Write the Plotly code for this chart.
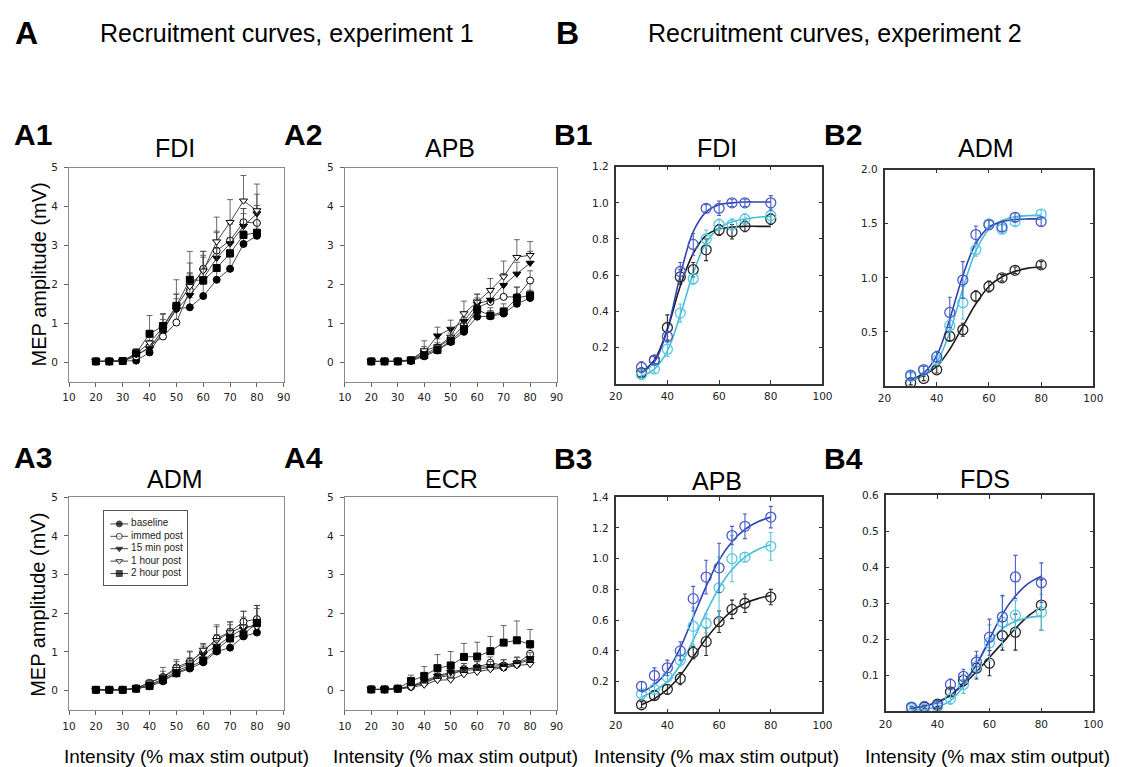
import plotly.graph_objects as go

W, H = 1125, 767

# ---------------- Experiment 1 (A panels) ----------------
intensity_a = [20, 25, 30, 35, 40, 45, 50, 55, 60, 65, 70, 75, 80]
conditions = ["baseline", "immed post", "15 min post", "1 hour post", "2 hour post"]

fdi_a_mean = {
    "baseline":    [0.02, 0.02, 0.03, 0.04, 0.25, 0.80, 1.38, 1.41, 1.70, 2.12, 2.40, 3.04, 3.25],
    "immed post":  [0.02, 0.02, 0.03, 0.15, 0.40, 0.66, 1.02, 1.85, 2.40, 2.87, 3.13, 3.60, 3.58],
    "15 min post": [0.02, 0.02, 0.03, 0.20, 0.35, 0.85, 1.35, 1.72, 2.15, 2.68, 3.05, 3.50, 3.82],
    "1 hour post": [0.02, 0.02, 0.03, 0.22, 0.50, 0.90, 1.42, 1.95, 2.35, 3.10, 3.60, 4.15, 3.90],
    "2 hour post": [0.02, 0.02, 0.03, 0.23, 0.73, 0.93, 1.45, 2.12, 2.10, 2.42, 2.80, 3.27, 3.33],
}
fdi_a_err = {
    "baseline":    [0, 0, 0, 0.02, 0.08, 0.15, 0.25, 0.25, 0.30, 0.30, 0.30, 0.35, 0.35],
    "immed post":  [0, 0, 0, 0.05, 0.15, 0.20, 0.35, 0.45, 0.45, 0.50, 0.45, 0.35, 0.45],
    "15 min post": [0, 0, 0, 0.06, 0.20, 0.25, 0.40, 0.55, 0.60, 0.65, 0.50, 0.45, 0.50],
    "1 hour post": [0, 0, 0, 0.08, 0.30, 0.35, 0.70, 0.60, 0.50, 0.63, 0.58, 0.65, 0.68],
    "2 hour post": [0, 0, 0, 0.12, 0.47, 0.30, 0.30, 0.73, 0.60, 0.50, 0.40, 0.55, 0.50],
}

apb_a_mean = {
    "baseline":    [0.02, 0.02, 0.02, 0.03, 0.15, 0.30, 0.52, 0.78, 1.17, 1.18, 1.25, 1.50, 1.65],
    "immed post":  [0.02, 0.02, 0.02, 0.05, 0.20, 0.38, 0.60, 0.95, 1.40, 1.55, 1.68, 1.68, 2.10],
    "15 min post": [0.02, 0.02, 0.02, 0.06, 0.25, 0.68, 0.85, 1.05, 1.50, 1.60, 1.98, 2.27, 2.55],
    "1 hour post": [0.02, 0.02, 0.02, 0.07, 0.30, 0.40, 0.65, 1.25, 1.55, 1.85, 2.20, 2.70, 2.75],
    "2 hour post": [0.02, 0.02, 0.02, 0.05, 0.18, 0.32, 0.55, 0.85, 1.35, 1.20, 1.30, 1.65, 1.72],
}
apb_a_err = {
    "baseline":    [0, 0, 0, 0.02, 0.05, 0.08, 0.10, 0.15, 0.20, 0.15, 0.15, 0.20, 0.20],
    "immed post":  [0, 0, 0, 0.02, 0.08, 0.12, 0.15, 0.20, 0.25, 0.25, 0.30, 0.25, 0.25],
    "15 min post": [0, 0, 0, 0.03, 0.15, 0.22, 0.23, 0.25, 0.25, 0.30, 0.30, 0.30, 0.30],
    "1 hour post": [0, 0, 0, 0.03, 0.25, 0.20, 0.25, 0.32, 0.20, 0.30, 0.40, 0.45, 0.35],
    "2 hour post": [0, 0, 0, 0.02, 0.05, 0.10, 0.12, 0.18, 0.25, 0.20, 0.20, 0.28, 0.30],
}

adm_a_mean = {
    "baseline":    [0.02, 0.02, 0.02, 0.05, 0.11, 0.24, 0.44, 0.57, 0.73, 1.01, 1.11, 1.40, 1.50],
    "immed post":  [0.02, 0.02, 0.02, 0.06, 0.20, 0.35, 0.60, 0.75, 1.00, 1.35, 1.52, 1.78, 1.85],
    "15 min post": [0.02, 0.02, 0.02, 0.06, 0.15, 0.30, 0.50, 0.65, 0.95, 1.15, 1.40, 1.60, 1.72],
    "1 hour post": [0.02, 0.02, 0.02, 0.06, 0.20, 0.35, 0.55, 0.72, 1.05, 1.30, 1.50, 1.65, 1.65],
    "2 hour post": [0.02, 0.02, 0.02, 0.05, 0.12, 0.28, 0.45, 0.62, 0.78, 1.05, 1.35, 1.45, 1.75],
}
adm_a_err = {
    "baseline":    [0, 0, 0, 0.01, 0.03, 0.05, 0.08, 0.10, 0.12, 0.12, 0.15, 0.15, 0.10],
    "immed post":  [0, 0, 0, 0.02, 0.05, 0.15, 0.20, 0.25, 0.20, 0.30, 0.25, 0.27, 0.35],
    "15 min post": [0, 0, 0, 0.02, 0.05, 0.12, 0.15, 0.20, 0.20, 0.30, 0.30, 0.30, 0.40],
    "1 hour post": [0, 0, 0, 0.02, 0.08, 0.25, 0.20, 0.30, 0.17, 0.40, 0.28, 0.40, 0.55],
    "2 hour post": [0, 0, 0, 0.01, 0.04, 0.10, 0.15, 0.20, 0.20, 0.25, 0.25, 0.25, 0.45],
}

ecr_a_mean = {
    "baseline":    [0.03, 0.03, 0.05, 0.10, 0.22, 0.35, 0.45, 0.52, 0.55, 0.60, 0.60, 0.68, 0.80],
    "immed post":  [0.03, 0.03, 0.05, 0.10, 0.20, 0.33, 0.40, 0.55, 0.60, 0.72, 0.65, 0.70, 0.95],
    "15 min post": [0.03, 0.03, 0.05, 0.12, 0.25, 0.38, 0.48, 0.55, 0.60, 0.63, 0.65, 0.72, 0.83],
    "1 hour post": [0.03, 0.03, 0.04, 0.08, 0.15, 0.27, 0.28, 0.42, 0.48, 0.55, 0.58, 0.65, 0.68],
    "2 hour post": [0.03, 0.03, 0.05, 0.25, 0.38, 0.58, 0.65, 0.87, 0.88, 1.02, 1.24, 1.30, 1.20],
}
ecr_a_err = {
    "baseline":    [0, 0, 0, 0.03, 0.05, 0.08, 0.10, 0.12, 0.12, 0.12, 0.10, 0.10, 0.12],
    "immed post":  [0, 0, 0, 0.03, 0.06, 0.10, 0.12, 0.15, 0.15, 0.15, 0.15, 0.15, 0.15],
    "15 min post": [0, 0, 0, 0.03, 0.06, 0.10, 0.12, 0.15, 0.15, 0.12, 0.15, 0.15, 0.15],
    "1 hour post": [0, 0, 0, 0.02, 0.05, 0.08, 0.10, 0.12, 0.10, 0.10, 0.12, 0.10, 0.10],
    "2 hour post": [0, 0, 0, 0.15, 0.24, 0.35, 0.36, 0.35, 0.37, 0.38, 0.44, 0.50, 0.38],
}

# ---------------- Experiment 2 (B panels) ----------------
intensity_b = [30, 35, 40, 45, 50, 55, 60, 65, 70, 80]
intensity_fit = [30, 35, 40, 45, 50, 55, 60, 65, 70, 75, 80]
sessions_b = ["black", "cyan", "blue"]

fdi_b_mean = {
    "black": [0.06, 0.13, 0.31, 0.59, 0.63, 0.74, 0.85, 0.84, 0.87, 0.91],
    "cyan":  [0.05, 0.08, 0.19, 0.39, 0.58, 0.80, 0.88, 0.88, 0.91, 0.93],
    "blue":  [0.09, 0.13, 0.26, 0.62, 0.77, 0.97, 0.97, 1.00, 1.00, 1.00],
}
fdi_b_err = {
    "black": [0.02, 0.02, 0.07, 0.04, 0.04, 0.06, 0.03, 0.04, 0.03, 0.03],
    "cyan":  [0.02, 0.02, 0.04, 0.05, 0.03, 0.05, 0.03, 0.03, 0.03, 0.04],
    "blue":  [0.03, 0.02, 0.03, 0.05, 0.06, 0.02, 0.04, 0.02, 0.02, 0.04],
}
fdi_b_fit = {
    "black": [0.06, 0.13, 0.30, 0.54, 0.72, 0.82, 0.855, 0.865, 0.87, 0.87, 0.87],
    "cyan":  [0.04, 0.08, 0.18, 0.38, 0.61, 0.78, 0.86, 0.895, 0.91, 0.92, 0.925],
    "blue":  [0.06, 0.12, 0.30, 0.60, 0.84, 0.95, 0.99, 1.00, 1.005, 1.005, 1.005],
}

adm_b_mean = {
    "black": [0.03, 0.07, 0.15, 0.46, 0.52, 0.83, 0.92, 1.00, 1.07, 1.12],
    "cyan":  [0.09, 0.15, 0.24, 0.56, 0.77, 1.26, 1.50, 1.45, 1.52, 1.59],
    "blue":  [0.10, 0.15, 0.27, 0.68, 0.98, 1.40, 1.49, 1.47, 1.56, 1.52],
}
adm_b_err = {
    "black": [0.02, 0.02, 0.03, 0.04, 0.06, 0.05, 0.05, 0.03, 0.03, 0.03],
    "cyan":  [0.03, 0.03, 0.04, 0.06, 0.15, 0.06, 0.04, 0.04, 0.04, 0.04],
    "blue":  [0.03, 0.03, 0.05, 0.14, 0.17, 0.08, 0.04, 0.04, 0.04, 0.04],
}
adm_b_fit = {
    "black": [0.05, 0.10, 0.18, 0.34, 0.55, 0.76, 0.92, 1.01, 1.06, 1.09, 1.10],
    "cyan":  [0.05, 0.10, 0.22, 0.50, 0.90, 1.25, 1.45, 1.53, 1.565, 1.575, 1.58],
    "blue":  [0.06, 0.12, 0.28, 0.62, 1.02, 1.32, 1.47, 1.52, 1.54, 1.545, 1.545],
}

apb_b_mean = {
    "black": [0.05, 0.11, 0.15, 0.22, 0.39, 0.46, 0.59, 0.67, 0.71, 0.75],
    "cyan":  [0.12, 0.15, 0.23, 0.34, 0.56, 0.58, 0.81, 1.00, 1.01, 1.08],
    "blue":  [0.17, 0.24, 0.29, 0.40, 0.74, 0.88, 0.94, 1.15, 1.21, 1.27],
}
apb_b_err = {
    "black": [0.02, 0.03, 0.03, 0.04, 0.04, 0.09, 0.07, 0.06, 0.06, 0.05],
    "cyan":  [0.02, 0.03, 0.03, 0.04, 0.12, 0.06, 0.20, 0.15, 0.03, 0.09],
    "blue":  [0.03, 0.05, 0.05, 0.06, 0.08, 0.11, 0.16, 0.06, 0.08, 0.07],
}
apb_b_fit = {
    "black": [0.05, 0.09, 0.15, 0.24, 0.36, 0.48, 0.58, 0.66, 0.71, 0.74, 0.76],
    "cyan":  [0.10, 0.14, 0.20, 0.31, 0.47, 0.65, 0.81, 0.93, 1.01, 1.06, 1.09],
    "blue":  [0.13, 0.18, 0.27, 0.42, 0.62, 0.82, 0.99, 1.11, 1.19, 1.24, 1.27],
}

fds_b_mean = {
    "black": [0.010, 0.012, 0.020, 0.054, 0.086, 0.120, 0.134, 0.210, 0.220, 0.295],
    "cyan":  [0.008, 0.008, 0.012, 0.035, 0.075, 0.125, 0.190, 0.248, 0.267, 0.275],
    "blue":  [0.012, 0.014, 0.017, 0.075, 0.097, 0.137, 0.206, 0.262, 0.373, 0.357],
}
fds_b_err = {
    "black": [0.003, 0.004, 0.006, 0.010, 0.015, 0.030, 0.035, 0.040, 0.050, 0.070],
    "cyan":  [0.003, 0.004, 0.006, 0.015, 0.025, 0.030, 0.050, 0.070, 0.040, 0.050],
    "blue":  [0.003, 0.004, 0.006, 0.015, 0.020, 0.030, 0.050, 0.060, 0.060, 0.055],
}
fds_b_fit = {
    "black": [0.008, 0.015, 0.026, 0.045, 0.075, 0.110, 0.150, 0.190, 0.230, 0.265, 0.290],
    "cyan":  [0.003, 0.006, 0.013, 0.030, 0.070, 0.130, 0.190, 0.230, 0.250, 0.260, 0.265],
    "blue":  [0.010, 0.015, 0.025, 0.045, 0.080, 0.130, 0.200, 0.270, 0.320, 0.355, 0.375],
}

# ---------------- styles ----------------
cond_style = {
    "baseline":    dict(symbol="circle", color="black"),
    "immed post":  dict(symbol="circle", color="white"),
    "15 min post": dict(symbol="triangle-down", color="black"),
    "1 hour post": dict(symbol="triangle-down", color="white"),
    "2 hour post": dict(symbol="square", color="black"),
}
session_line = {"black": "#1c1c1c", "cyan": "#45bcd8", "blue": "#2f41b3"}
session_marker = {"black": "#2a2a2a", "cyan": "#55c6df", "blue": "#4a5cc8"}

FONT = "Liberation Sans, Arial, sans-serif"
TICKFONT = dict(family="DejaVu Sans, Verdana, sans-serif", size=10.5, color="#222")

# plot boxes in pixels: (left, right, top, bottom)
boxes = {
    1: (63, 281, 163, 378.6),   # A1
    2: (343, 558, 163, 378.6),  # A2
    3: (618, 828, 162, 380.5),  # B1
    4: (891, 1103, 165, 383),   # B2
    5: (63, 281, 495, 709.5),   # A3
    6: (343, 558, 495, 709.5),  # A4
    7: (618, 828, 495, 712),    # B3
    8: (892, 1103, 493, 711),   # B4
}
# key box inside A3, in pixels (left, right, top, bottom)
key_box = (98, 183, 509, 584)

fig = go.Figure()


def axis_names(i):
    return ("x" if i == 1 else f"x{i}"), ("y" if i == 1 else f"y{i}")


def add_a_panel(idx, means, errs):
    xa, ya = axis_names(idx)
    for cond in conditions:
        st = cond_style[cond]
        fig.add_trace(go.Scatter(
            x=intensity_a, y=means[cond], name=cond, mode="lines+markers",
            xaxis=xa, yaxis=ya, showlegend=False,
            line=dict(color="#333", width=0.9),
            marker=dict(symbol=st["symbol"], size=7, color=st["color"],
                        line=dict(color="black", width=1)),
            error_y=dict(type="data", symmetric=False, array=errs[cond],
                         arrayminus=[0] * len(errs[cond]),
                         color="#444", thickness=0.8, width=3),
        ))


def add_b_panel(idx, means, errs, fits):
    xa, ya = axis_names(idx)
    for s in sessions_b:
        fig.add_trace(go.Scatter(
            x=intensity_fit, y=fits[s], mode="lines", xaxis=xa, yaxis=ya,
            showlegend=False, line=dict(color=session_line[s], width=1.6, shape="spline"),
            hoverinfo="skip",
        ))
    for s in sessions_b:
        fig.add_trace(go.Scatter(
            x=intensity_b, y=means[s], mode="markers", xaxis=xa, yaxis=ya,
            showlegend=False,
            marker=dict(symbol="circle-open", size=10, color=session_marker[s],
                        line=dict(width=1.3)),
            error_y=dict(type="data", array=errs[s], color=session_marker[s],
                         thickness=1.1, width=2),
        ))


add_a_panel(1, fdi_a_mean, fdi_a_err)
add_a_panel(2, apb_a_mean, apb_a_err)
add_a_panel(5, adm_a_mean, adm_a_err)
add_a_panel(6, ecr_a_mean, ecr_a_err)
add_b_panel(3, fdi_b_mean, fdi_b_err, fdi_b_fit)
add_b_panel(4, adm_b_mean, adm_b_err, adm_b_fit)
add_b_panel(7, apb_b_mean, apb_b_err, apb_b_fit)
add_b_panel(8, fds_b_mean, fds_b_err, fds_b_fit)

# compact key for the five conditions, drawn on its own small axis (x9/y9);
# x units are pixels across the key box, y units are rows
for row, cond in enumerate(conditions):
    st = cond_style[cond]
    fig.add_trace(go.Scatter(
        x=[7, 16, 25], y=[row, row, row], mode="lines+markers",
        xaxis="x9", yaxis="y9", showlegend=False, hoverinfo="skip",
        line=dict(color="#333", width=0.9),
        marker=dict(symbol=st["symbol"], size=[0, 6, 0], color=st["color"],
                    line=dict(color="black", width=1)),
    ))
fig.add_trace(go.Scatter(
    x=[28] * len(conditions), y=list(range(len(conditions))), text=conditions,
    mode="text", textposition="middle right", xaxis="x9", yaxis="y9",
    showlegend=False, hoverinfo="skip",
    textfont=dict(family=FONT, size=10, color="#222"),
))

# axes
b_yticks = {
    3: ([0.2, 0.4, 0.6, 0.8, 1.0, 1.2], [0, 1.2]),
    4: ([0.5, 1.0, 1.5, 2.0], [0, 2.0]),
    7: ([0.2, 0.4, 0.6, 0.8, 1.0, 1.2, 1.4], [0, 1.4]),
    8: ([0.1, 0.2, 0.3, 0.4, 0.5, 0.6], [0, 0.6]),
}
layout_axes = {}
for idx, (l, r, t, b) in boxes.items():
    xd = [l / W, r / W]
    yd = [1 - b / H, 1 - t / H]
    xkey = "xaxis" if idx == 1 else f"xaxis{idx}"
    ykey = "yaxis" if idx == 1 else f"yaxis{idx}"
    xa, ya = axis_names(idx)
    if idx in (1, 2, 5, 6):
        layout_axes[xkey] = dict(
            domain=xd, anchor=ya, range=[10, 90], tickvals=list(range(10, 91, 10)),
            ticks="outside", ticklen=4, tickcolor="#666", showline=True, mirror=True,
            linecolor="#8a8a8a", linewidth=1, showgrid=False, zeroline=False,
            tickfont=TICKFONT, ticklabelstandoff=2)
        layout_axes[ykey] = dict(
            domain=yd, anchor=xa, range=[-0.5, 5], tickvals=[0, 1, 2, 3, 4, 5],
            ticks="outside", ticklen=4, tickcolor="#666", showline=True, mirror=True,
            linecolor="#8a8a8a", linewidth=1, showgrid=False, zeroline=False,
            tickfont=TICKFONT, ticklabelstandoff=4)
    else:
        tv, rng = b_yticks[idx]
        layout_axes[xkey] = dict(
            domain=xd, anchor=ya, range=[20, 100], tickvals=[20, 40, 60, 80, 100],
            ticks="inside", ticklen=4, tickcolor="#333", showline=True, mirror="ticks",
            linecolor="#333", linewidth=1.5, showgrid=False, zeroline=False,
            tickfont=TICKFONT, ticklabelstandoff=2)
        layout_axes[ykey] = dict(
            domain=yd, anchor=xa, range=rng, tickvals=tv, tickformat=".1f",
            ticks="inside", ticklen=4, tickcolor="#333", showline=True, mirror="ticks",
            linecolor="#333", linewidth=1.5, showgrid=False, zeroline=False,
            tickfont=TICKFONT, ticklabelstandoff=3)

kl, kr, kt, kb = key_box
row_top = kt + 13      # centre of first key row, px
row_step = 12.5        # px between key rows
layout_axes["xaxis9"] = dict(
    domain=[kl / W, kr / W], anchor="y9", range=[0, kr - kl],
    showline=True, mirror=True, linecolor="#555", linewidth=1,
    showticklabels=False, ticks="", showgrid=False, zeroline=False, fixedrange=True)
layout_axes["yaxis9"] = dict(
    domain=[1 - kb / H, 1 - kt / H], anchor="x9",
    range=[(kb - row_top) / row_step, (kt - row_top) / row_step],
    showline=True, mirror=True, linecolor="#555", linewidth=1,
    showticklabels=False, ticks="", showgrid=False, zeroline=False, fixedrange=True)


def ann(text, x, y, size, bold=False, xanchor="center", angle=0):
    return dict(text=f"<b>{text}</b>" if bold else text, x=x / W, y=1 - y / H,
                xref="paper", yref="paper", xanchor=xanchor, yanchor="middle",
                showarrow=False, textangle=angle,
                font=dict(family=FONT, size=size, color="black"))


annotations = [
    ann("A", 6, 27, 32, bold=True, xanchor="left"),
    ann("Recruitment curves, experiment 1", 92, 27, 25, xanchor="left"),
    ann("B", 555, 27, 32, bold=True, xanchor="left"),
    ann("Recruitment curves, experiment 2", 649, 27, 25, xanchor="left"),
    ann("A1", 5, 130, 30, bold=True, xanchor="left"),
    ann("A2", 279, 130, 30, bold=True, xanchor="left"),
    ann("B1", 553, 130, 30, bold=True, xanchor="left"),
    ann("B2", 827, 130, 30, bold=True, xanchor="left"),
    ann("A3", 5, 455, 30, bold=True, xanchor="left"),
    ann("A4", 279, 455, 30, bold=True, xanchor="left"),
    ann("B3", 553, 456, 30, bold=True, xanchor="left"),
    ann("B4", 827, 456, 30, bold=True, xanchor="left"),
    ann("FDI", 171, 143, 25),
    ann("APB", 450, 143, 25),
    ann("FDI", 721, 143, 25),
    ann("ADM", 994, 143, 25),
    ann("ADM", 171, 477, 25),
    ann("ECR", 451, 477, 25),
    ann("APB", 721, 479, 25),
    ann("FDS", 993, 477, 25),
    ann("MEP amplitude (mV)", 32, 271, 20, angle=-90),
    ann("MEP amplitude (mV)", 32, 604, 20, angle=-90),
]
for cx in (182, 455, 720, 996):
    annotations.append(ann("Intensity (% max stim output)", cx, 756, 19))

fig.update_layout(
    width=W, height=H, margin=dict(l=0, r=0, t=0, b=0),
    paper_bgcolor="white", plot_bgcolor="white",
    annotations=annotations, showlegend=False,
    **layout_axes,
)

fig.write_html("out.html")
